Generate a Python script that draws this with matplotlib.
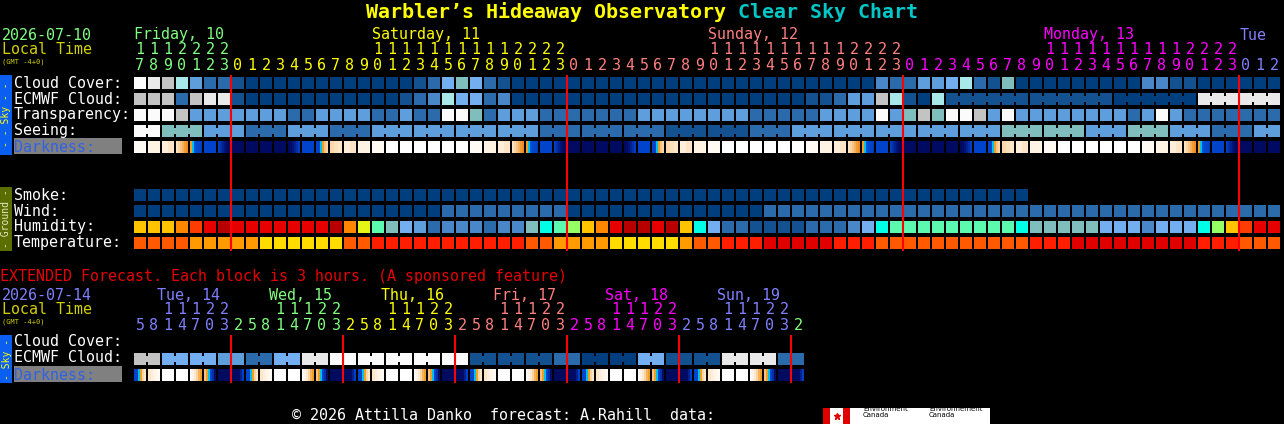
import matplotlib
matplotlib.use("Agg")
import matplotlib.pyplot as plt
from matplotlib.patches import Rectangle

# ---- data ----
main_hours = [17, 18, 19, 20, 21, 22, 23] + list(range(24)) * 3 + [0, 1, 2]
main_days = ["Friday, 10", "Saturday, 11", "Sunday, 12", "Monday, 13", "Tue"]
main_day_colors = ["#80ff80", "#ffff00", "#ff8080", "#ff00ff", "#8080ff"]

cloud_cover = [10, 9, 8, 7, 4, 2, 2,
               1, 0, 0, 0, 0, 0, 0, 0, 0, 0, 0, 0, 0,
               1, 2, 5, 6, 5, 2, 1,
               0, 0, 0, 0, 0, 0, 0, 0, 0, 0, 0, 0, 0, 0, 0, 0, 0, 0, 0, 0, 0, 0, 0, 0, 0, 0,
               3, 2, 2, 4, 4, 5, 7, 2, 1, 6,
               0, 0, 0, 0, 0, 0, 0, 0, 0,
               3, 3, 1, 1,
               0, 0, 0, 0, 0, 0]
ecmwf_cloud = [8, 8, 8, 2, 8, 9, 9,
               1, 0, 0, 0, 0, 0, 0, 0, 0, 0, 0, 0, 1,
               2, 3, 7, 5, 5, 2, 3,
               0, 0, 0, 0, 0, 0, 0, 0, 0, 0, 0, 0, 0, 0, 0, 0, 0, 0, 0, 0, 0, 1, 1,
               2, 4, 4, 8, 7, 1, 0, 7,
               1, 1, 1, 1, 1, 1, 1, 1, 1, 1, 1, 1,
               0, 0, 0, 0, 0, 0, 9, 9, 9, 9, 9, 9]
transparency = [10, 10, 10, 8, 4, 4, 4, 4, 4, 4, 4, 2, 2, 4, 4, 4, 4, 2, 2, 4, 2,
                2, 10, 10, 6, 2, 4, 4, 4, 2, 2, 2, 2, 2, 2, 2, 4, 4, 4, 4, 4, 4, 4, 4, 2, 2, 2, 2, 2, 4, 4,
                4, 4, 10, 4, 6, 8, 6, 10, 10, 8, 4, 10, 4, 4, 4, 4, 4, 4, 4, 4,
                2, 4, 10, 4, 2, 2, 2, 2, 2, 2, 2]
seeing = [10, 10, 6, 6, 6, 4, 4, 4, 2, 2, 2, 4, 4, 4, 2, 2, 2, 4, 4, 4,
          4, 4, 4, 4, 4, 4, 4, 4, 4, 2, 2, 2, 2, 2, 2, 2, 2, 2,
          1, 1, 1, 1, 1, 1, 2, 2, 2,
          4, 4, 4, 4, 4, 4, 4, 4, 4, 4, 4, 4, 4, 4, 4,
          6, 6, 6, 6, 6, 6, 4, 4, 4, 6, 6, 6, 4, 4, 4, 2, 2, 2, 4, 4]
darkness = ("1234567"
            "888896AB321WWWWWW1234567"
            "888896AB321WWWWWW1234567"
            "888896AB321WWWWWW1234567"
            "888")
smoke = [0] * 64 + [None] * 18
wind = [0] * 22 + [2] * 9 + [0] * 14 + [2] * 37
humidity = [11, 11, 11, 12, 13, 14, 15, 14, 14, 14, 14, 14, 14, 14, 15, 12, 10, 8, 6, 5, 4,
            2, 3, 3, 3, 2, 3, 3, 6, 7, 8, 9, 11, 12, 14, 15, 15, 14, 15, 11, 7, 5, 2, 2, 1, 1, 1, 1, 2, 2, 2,
            3, 5, 7, 8, 8, 8, 8, 8, 8, 8, 8, 8, 7, 6, 6, 6, 6, 6, 5, 5, 5, 3, 5, 5, 5, 7, 9, 11, 13, 14, 14]
temperature = [2, 2, 2, 2, 1, 1, 1, 1, 1, 0, 0, 0, 0, 0, 0, 2, 2,
               3, 3, 3, 3, 3, 3, 3, 3, 3, 3, 3, 2, 2, 1, 1, 1, 1, 0, 0, 0, 0, 0, 1, 2, 2, 3, 3, 3,
               4, 4, 4, 4, 4, 3, 3, 3, 2, 2, 2, 2, 2, 2, 2, 2, 2, 2, 2,
               3, 3, 3, 4, 4, 4, 4, 4, 4, 4, 4, 4, 3, 3, 3, 2, 2, 2]

ext_hours = [5, 8, 11, 14, 17, 20, 23] + [2, 5, 8, 11, 14, 17, 20, 23] * 5 + [2]
ext_days = ["Tue, 14", "Wed, 15", "Thu, 16", "Fri, 17", "Sat, 18", "Sun, 19", ""]
ext_day_colors = ["#8080ff", "#80ff80", "#ffff00", "#ff8080", "#ff00ff", "#8080ff", "#80ff80"]
ext_ecmwf = [8, 8, 5, 5, 5, 5, 4, 4, 2, 2, 5, 5, 9, 9, 10, 10, 10, 10, 10, 10, 10, 10, 10, 10,
             1, 1, 1, 1, 1, 1, 2, 2, 0, 0, 0, 0, 5, 5, 1, 1, 1, 1, 9, 9, 9, 9, 2, 2]
ext_darkness = ("RCWWESN" "MRCWWESN" "MRCWWESN" "MRCWWESN" "MRCWWESN" "MRCWWESN" "M")

# ---- palettes ----
sky_pal = ["#003e7e", "#135191", "#2b6bab", "#4a87c8", "#5f9edd", "#73aff0",
           "#80bebe", "#a8e8e8", "#c3c3c3", "#e9e9e9", "#fbfbfb"]
hum_pal = ["#003e7e", "#135191", "#2b6bab", "#4a87c8", "#5f9edd", "#73aff0", "#80bebe",
           "#00ffe6", "#5cfaae", "#96ff64", "#e6f514", "#ffc300", "#ff8700", "#ff3c00",
           "#e60000", "#b90000"]
temp_pal = ["#ffdc00", "#ff9b00", "#ff5a00", "#ff1e00", "#e00000"]
dark_pal = {
    "W": ["#ffffff"],
    "1": ["#fffaf3"],
    "2": ["#fff3e3"],
    "3": ["#ffeeda", "#fee4c6"],
    "4": ["#fde2c0", "#fbd4a4", "#f8c485", "#f5b060", "#f29c38", "#f08c20"],
    "5": ["#f0a020", "#00c0f0", "#0050d8", "#0048cc", "#0044c8", "#0040c4"],
    "6": ["#0044cc"],
    "7": ["#0040c0", "#0030a8", "#002090", "#001478", "#000c68", "#000a60"],
    "8": ["#000a60"],
    "9": ["#000a60", "#000c68", "#001478", "#002090", "#0030a8", "#0040c0"],
    "A": ["#0044cc", "#0044cc", "#00c0f0", "#f0a020", "#f8c485", "#fbd4a4"],
    "B": ["#fcd8ac", "#fde0bc", "#fee6c8"],
    "N": ["#000a60"],
    "M": ["#000a60", "#000a60", "#000a60", "#000c68", "#002090", "#0040c0"],
    "R": ["#0044cc", "#0044cc", "#00c0f0", "#f0a020", "#fbd4a4", "#fee6c8"],
    "C": ["#fee6c8", "#ffeedd", "#fff5ea", "#fffaf4"],
    "E": ["#fffaf3", "#fff3e3", "#ffe8cf", "#fbd4a4", "#f5b060", "#f0a020"],
    "S": ["#f8c485", "#f0a020", "#00c0f0", "#0044cc", "#0030a8", "#000c68"],
}

MONO = "DejaVu Sans Mono"
FS = 10.8
X0, PITCH, BW = 134, 14, 12

fig = plt.figure(figsize=(12.84, 4.24), dpi=100, facecolor="black")
ax = fig.add_axes([0, 0, 1, 1])
ax.set_xlim(0, 1284)
ax.set_ylim(424, 0)
ax.axis("off")


def txt(x, y, s, color="white", size=FS, **kw):
    ax.text(x, y, s, color=color, fontsize=size, family=MONO, va="center", **kw)


def blocks(y, vals, pal, join=None):
    for k, v in enumerate(vals):
        if v is None:
            continue
        x = X0 + PITCH * k
        ax.add_patch(Rectangle((x, y), BW, BW, facecolor=pal[v], lw=0))
        if join and k + 1 < len(vals) and vals[k + 1] == v and join(k + 1):
            ax.add_patch(Rectangle((x + BW, y + 3), PITCH - BW, 6, facecolor=pal[v], lw=0))


def dark_blocks(y, codes):
    for k, c in enumerate(codes):
        cols = dark_pal[c]
        w = BW / len(cols)
        for i, col in enumerate(cols):
            ax.add_patch(Rectangle((X0 + PITCH * k + i * w, y), w, BW, facecolor=col, lw=0))


def side_bar(y0, y1, label, color, tcolor):
    ax.add_patch(Rectangle((0, y0), 12, y1 - y0, facecolor=color, lw=0))
    ax.text(6.5, (y0 + y1) / 2, label, color=tcolor, fontsize=7, family=MONO,
            rotation=90, ha="center", va="center")


def hour_header(hours, day_of, colors, y_tens, y_units):
    for k, h in enumerate(hours):
        xc = X0 + PITCH * k + 6
        col = colors[day_of[k]]
        if h >= 10:
            txt(xc, y_tens, str(h // 10), col, ha="center")
        txt(xc, y_units, str(h % 10), col, ha="center")


# title
ax.text(366, 12, "Warbler’s Hideaway Observatory", color="#ffff00", fontsize=14.4,
        family=MONO, weight="bold", va="center")
ax.text(738, 12, "Clear Sky Chart", color="#00c8c8", fontsize=14.4,
        family=MONO, weight="bold", va="center")

# main header
txt(2, 35, "2026-07-10", "#80ff80")
txt(2, 50, "Local Time", "#d0d000")
txt(2, 62, "(GMT -4+0)", "#d0d000", size=5)

day_of = []
d = 0
for k, h in enumerate(main_hours):
    if k > 0 and h == 0:
        d += 1
    day_of.append(d)
for d, name in enumerate(main_days):
    ks = [k for k in range(len(main_hours)) if day_of[k] == d]
    k10 = [k for k in ks if main_hours[k] == 10]
    kk = k10[0] if k10 else ks[0]
    txt(X0 + PITCH * kk, 35, name, main_day_colors[d])
hour_header(main_hours, day_of, main_day_colors, 50, 66)

# main rows
sky_rows = [("Cloud Cover:", 77), ("ECMWF Cloud:", 93), ("Transparency:", 109),
            ("Seeing:", 125)]
for name, y in sky_rows:
    txt(14, y + 6, name)
ax.add_patch(Rectangle((14, 138), 108, 16, facecolor="#808080", lw=0))
txt(14, 147, "Darkness:", "#2f62e6")

blocks(77, cloud_cover, sky_pal)
blocks(93, ecmwf_cloud, sky_pal, join=lambda k: k >= 59 and main_hours[k] % 6 != 3)
blocks(109, transparency, sky_pal)
blocks(125, seeing, sky_pal, join=lambda k: main_hours[k] % 3 != 1)
dark_blocks(141, darkness)

ground_rows = [("Smoke:", 189), ("Wind:", 205), ("Humidity:", 221), ("Temperature:", 237)]
for name, y in ground_rows:
    txt(14, y + 6, name)
blocks(189, smoke, sky_pal)
blocks(205, wind, sky_pal)
blocks(221, humidity, hum_pal)
blocks(237, temperature, temp_pal)

side_bar(75, 155, "- - Sky - -", "#0a5ef0", "#ffff00")
side_bar(187, 251, "- Ground -", "#5a6e00", "#e8e8c0")

for k, h in enumerate(main_hours):
    if h == 0:
        ax.vlines(X0 + PITCH * k - 1, 75, 251, color="#ff0000", lw=1.5)

# extended forecast
txt(0, 276, "EXTENDED Forecast. Each block is 3 hours. (A sponsored feature)", "#e60000")
txt(2, 295, "2026-07-14", "#8080ff")
txt(2, 310, "Local Time", "#d0d000")
txt(2, 322, "(GMT -4+0)", "#d0d000", size=5)

ext_day_of = []
d = 0
for k, h in enumerate(ext_hours):
    if k > 0 and h == 2:
        d += 1
    ext_day_of.append(d)
for d, name in enumerate(ext_days):
    ks = [k for k in range(len(ext_hours)) if ext_day_of[k] == d]
    k2 = ks[0] - (ext_hours[ks[0]] - 2) // 3
    if name:
        txt(X0 + PITCH * k2 + 37, 295, name, ext_day_colors[d])
hour_header(ext_hours, ext_day_of, ext_day_colors, 310, 325)

txt(14, 342, "Cloud Cover:")
txt(14, 358, "ECMWF Cloud:")
ax.add_patch(Rectangle((14, 366), 108, 16, facecolor="#808080", lw=0))
txt(14, 375, "Darkness:", "#2f62e6")

blocks(353, ext_ecmwf, sky_pal, join=lambda k: ext_hours[k] % 6 != 5)
dark_blocks(369, ext_darkness)
side_bar(335, 383, "- Sky -", "#0a5ef0", "#ffff00")

for k, h in enumerate(ext_hours):
    if h == 2 and k > 0:
        ax.vlines(X0 + PITCH * k - 1, 335, 383, color="#ff0000", lw=1.5)

# footer
txt(292, 416, "© 2026 Attilla Danko  forecast: A.Rahill  data:")
ax.add_patch(Rectangle((823, 408), 167, 16, facecolor="white", lw=0))
ax.add_patch(Rectangle((823, 408), 7, 16, facecolor="#e00000", lw=0))
ax.add_patch(Rectangle((843, 408), 7, 16, facecolor="#e00000", lw=0))
ax.plot(836.5, 416, marker="*", color="#e00000", ms=5)
ax.text(863, 412, "Environment\nCanada", color="black", fontsize=5, family="DejaVu Sans",
        va="center", linespacing=0.9)
ax.text(929, 412, "Environnement\nCanada", color="black", fontsize=5, family="DejaVu Sans",
        va="center", linespacing=0.9)

fig.savefig("out.png", dpi=100, facecolor="black")
